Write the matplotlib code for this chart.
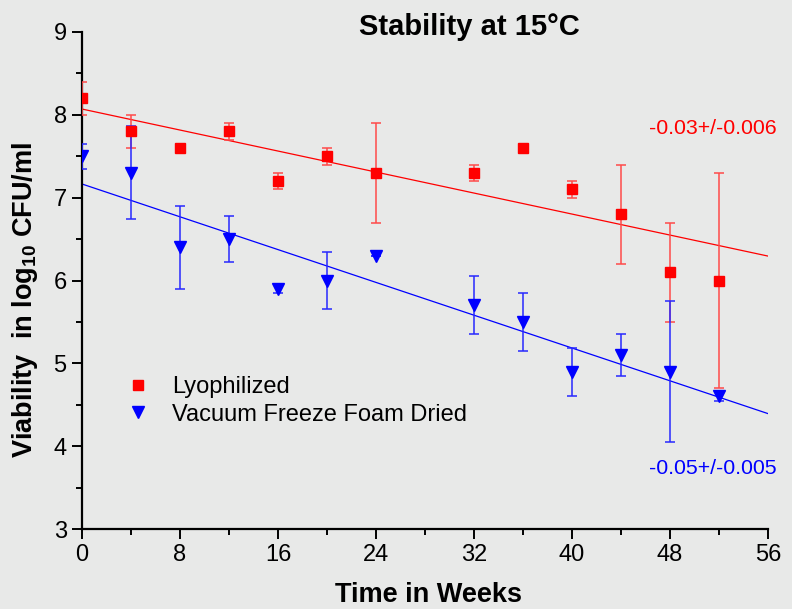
#!/usr/bin/env python3
"""
Stability at 15 C: viability of lyophilized vs vacuum freeze foam dried samples.
"""

import numpy as np
import matplotlib
matplotlib.use("Agg")
import matplotlib.pyplot as plt
from matplotlib.lines import Line2D
from matplotlib.ticker import MultipleLocator

# data
weeks = [0, 4, 8, 12, 16, 20, 24, 32, 36, 40, 44, 48, 52]
lyo_mean = [8.2, 7.8, 7.6, 7.8, 7.2, 7.5, 7.3, 7.3, 7.6, 7.1, 6.8, 6.1, 6.0]
lyo_err = [0.2, 0.2, 0.0, 0.1, 0.1, 0.1, 0.6, 0.1, 0.0, 0.1, 0.6, 0.6, 1.3]
foam_mean = [7.5, 7.3, 6.4, 6.5, 5.9, 6.0, 6.3, 5.7, 5.5, 4.9, 5.1, 4.9, 4.6]
foam_err = [0.15, 0.56, 0.5, 0.28, 0.05, 0.35, 0.0, 0.35, 0.35, 0.29, 0.25, 0.85, 0.05]

# linear fits (intercept, slope) as drawn on the chart
lyo_fit = (8.07, -0.0317)
foam_fit = (7.165, -0.0495)
lyo_slope_label = "-0.03+/-0.006"
foam_slope_label = "-0.05+/-0.005"

RED = "#FF0000"
BLUE = "#0000FF"
BG = "#E8E9E8"

plt.rcParams["font.family"] = ["Liberation Sans", "DejaVu Sans"]
plt.rcParams["mathtext.fontset"] = "custom"
plt.rcParams["mathtext.rm"] = "Liberation Sans"
plt.rcParams["mathtext.bf"] = "Liberation Sans:bold"

W, H = 792, 609
fig = plt.figure(figsize=(W / 100, H / 100), dpi=100, facecolor=BG)
ax = fig.add_axes([82 / W, 1 - 529 / H, 686 / W, 497 / H])
ax.set_facecolor(BG)

fit_x = np.array([0, 56])
ax.plot(fit_x, lyo_fit[0] + lyo_fit[1] * fit_x, color=RED, lw=0.9, zorder=2)
ax.plot(fit_x, foam_fit[0] + foam_fit[1] * fit_x, color=BLUE, lw=0.9, zorder=2)

ax.errorbar(weeks, lyo_mean, yerr=lyo_err, fmt="s", color=RED, ms=7,
            ecolor="#FF4A4A", elinewidth=1.1, capsize=3.5, capthick=1.1,
            zorder=3)
ax.errorbar(weeks, foam_mean, yerr=foam_err, fmt="v", color=BLUE, ms=8.5,
            ecolor="#2828FF", elinewidth=1.1, capsize=3.5, capthick=1.1,
            zorder=3)

ax.set_xlim(0, 56)
ax.set_ylim(3, 9)
ax.xaxis.set_major_locator(MultipleLocator(8))
ax.xaxis.set_minor_locator(MultipleLocator(4))
ax.yaxis.set_major_locator(MultipleLocator(1))
ax.yaxis.set_minor_locator(MultipleLocator(0.5))

for side in ("top", "right"):
    ax.spines[side].set_visible(False)
for side in ("left", "bottom"):
    ax.spines[side].set_linewidth(1.6)

ax.tick_params(which="major", direction="out", length=7, width=1.4,
               labelsize=17, pad=4)
ax.tick_params(which="minor", direction="out", length=4, width=1.4)

fig.text(469 / W, 1 - 35 / H, "Stability at 15\u00b0C", fontsize=21,
         fontweight="bold", ha="center", va="baseline")
fig.text(429 / W, 1 - 602 / H, "Time in Weeks", fontsize=19.5,
         fontweight="bold", ha="center", va="baseline")
fig.text(25 / W, 1 - 300 / H, "Viability  in log$_{\\mathbf{10}}$ CFU/ml",
         fontsize=19.5, fontweight="bold", ha="center", va="center",
         rotation=90)

fig.text(777 / W, 1 - 134 / H, lyo_slope_label, color=RED, fontsize=15.3,
         ha="right", va="baseline")
fig.text(777 / W, 1 - 474 / H, foam_slope_label, color=BLUE, fontsize=15.3,
         ha="right", va="baseline")

handles = [
    Line2D([], [], ls="none", marker="s", color=RED, ms=6.5),
    Line2D([], [], ls="none", marker="v", color=BLUE, ms=8),
]
ax.legend(handles, ["Lyophilized", "Vacuum Freeze Foam Dried"],
          loc="center left", bbox_to_anchor=(0.030, 0.258), frameon=False,
          fontsize=17, handletextpad=0.85, labelspacing=0.25,
          handlelength=1.2)

fig.savefig("out.png", dpi=100, facecolor=BG)
